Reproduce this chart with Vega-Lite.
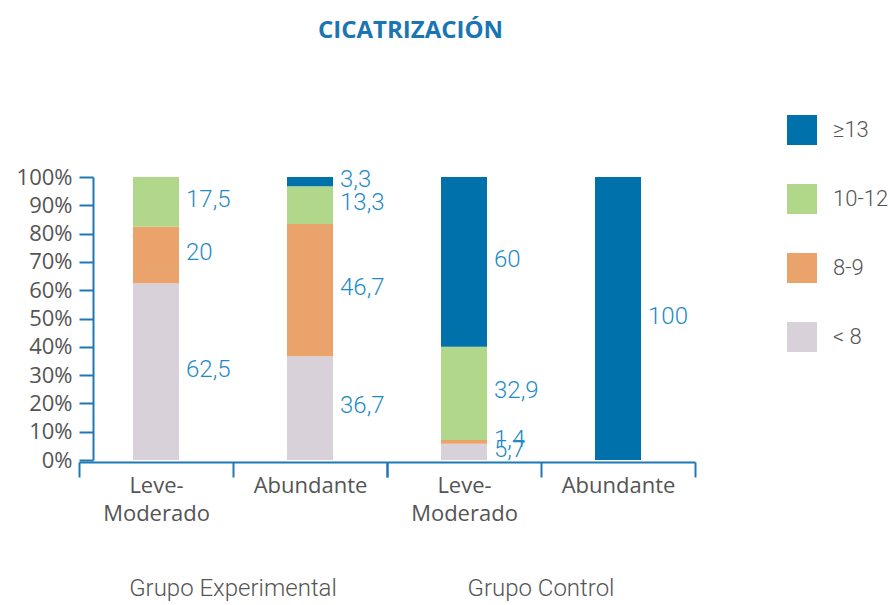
{
  "$schema": "https://vega.github.io/schema/vega-lite/v6.json",
  "padding": {"left": 16, "top": 19, "right": 4, "bottom": 4},
  "title": {
    "text": "CICATRIZACIÓN",
    "font": "Open Sans",
    "fontSize": 24,
    "fontWeight": "bold",
    "color": "#1a76b2",
    "anchor": "middle",
    "offset": 72,
    "dx": -42
  },
  "data": {
    "values": [
      {"grupo": "Grupo Experimental", "sev": "Leve-Moderado", "cat": "< 8", "k": 1, "v": 62.5},
      {"grupo": "Grupo Experimental", "sev": "Leve-Moderado", "cat": "8-9", "k": 2, "v": 20},
      {"grupo": "Grupo Experimental", "sev": "Leve-Moderado", "cat": "10-12", "k": 3, "v": 17.5},
      {"grupo": "Grupo Experimental", "sev": "Abundante", "cat": "< 8", "k": 1, "v": 36.7},
      {"grupo": "Grupo Experimental", "sev": "Abundante", "cat": "8-9", "k": 2, "v": 46.7},
      {"grupo": "Grupo Experimental", "sev": "Abundante", "cat": "10-12", "k": 3, "v": 13.3},
      {"grupo": "Grupo Experimental", "sev": "Abundante", "cat": "≥13", "k": 4, "v": 3.3},
      {"grupo": "Grupo Control", "sev": "Leve-Moderado", "cat": "< 8", "k": 1, "v": 5.7},
      {"grupo": "Grupo Control", "sev": "Leve-Moderado", "cat": "8-9", "k": 2, "v": 1.4},
      {"grupo": "Grupo Control", "sev": "Leve-Moderado", "cat": "10-12", "k": 3, "v": 32.9},
      {"grupo": "Grupo Control", "sev": "Leve-Moderado", "cat": "≥13", "k": 4, "v": 60},
      {"grupo": "Grupo Control", "sev": "Abundante", "cat": "≥13", "k": 4, "v": 100}
    ]
  },
  "transform": [
    {"stack": "v", "groupby": ["grupo", "sev"], "sort": [{"field": "k", "order": "ascending"}], "as": ["y0", "y1"]},
    {"calculate": "(datum.y0 + datum.y1) / 2", "as": "mid"},
    {"calculate": "replace(format(datum.v, '.1~f'), '.', ',')", "as": "etiqueta"}
  ],
  "facet": {
    "column": {
      "field": "grupo",
      "type": "nominal",
      "sort": ["Grupo Experimental", "Grupo Control"],
      "title": null,
      "header": {
        "labelOrient": "bottom",
        "labelFont": "Roboto",
        "labelFontWeight": 300,
        "labelFontSize": 24,
        "labelColor": "#555555",
        "labelPadding": 53
      }
    }
  },
  "spacing": 0,
  "spec": {
    "width": 308,
    "height": 283,
    "layer": [
      {
        "mark": {"type": "bar", "width": 46},
        "encoding": {
          "x": {
            "field": "sev",
            "type": "nominal",
            "sort": ["Leve-Moderado", "Abundante"],
            "scale": {"paddingInner": 0, "paddingOuter": 0},
            "axis": {
              "title": null,
              "labelAngle": 0,
              "tickBand": "extent",
              "tickSize": 15,
              "tickWidth": 2,
              "domainWidth": 2,
              "domainColor": "#1d78b4",
              "tickColor": "#1d78b4",
              "labelFont": "Open Sans",
              "labelFontSize": 22,
              "labelColor": "#555555",
              "labelPadding": -2,
              "labelBaseline": "top",
              "labelLineHeight": 28,
              "labelExpr": "datum.label == 'Leve-Moderado' ? ['Leve-', 'Moderado'] : datum.label"
            }
          },
          "y": {
            "field": "y0",
            "type": "quantitative",
            "scale": {"domain": [0, 100], "nice": false},
            "axis": {
              "title": null,
              "values": [0, 10, 20, 30, 40, 50, 60, 70, 80, 90, 100],
              "labelExpr": "datum.value + '%'",
              "labelOverlap": false,
              "offset": -14,
              "grid": false,
              "tickSize": 14,
              "tickWidth": 2,
              "domainWidth": 2,
              "domainColor": "#1d78b4",
              "tickColor": "#1d78b4",
              "labelFont": "Open Sans",
              "labelFontSize": 22,
              "labelColor": "#555555",
              "labelPadding": 7
            }
          },
          "y2": {"field": "y1"},
          "color": {
            "field": "cat",
            "type": "nominal",
            "scale": {
              "domain": ["≥13", "10-12", "8-9", "< 8"],
              "range": ["#0071ab", "#b1d78b", "#eaa36a", "#d9d1da"]
            },
            "legend": {
              "orient": "none",
              "legendX": 708,
              "legendY": -62,
              "title": null,
              "symbolType": "square",
              "symbolSize": 900,
              "symbolStrokeWidth": 0,
              "symbolOpacity": 1,
              "rowPadding": 39,
              "labelFont": "Roboto",
              "labelFontWeight": 300,
              "labelFontSize": 22,
              "labelColor": "#555555",
              "labelOffset": 16
            }
          }
        }
      },
      {
        "mark": {
          "type": "text",
          "align": "left",
          "baseline": "middle",
          "dx": 30,
          "dy": -2,
          "font": "Roboto",
          "fontWeight": 300,
          "fontSize": 24,
          "color": "#1f8bc6"
        },
        "encoding": {
          "x": {
            "field": "sev",
            "type": "nominal",
            "sort": ["Leve-Moderado", "Abundante"],
            "axis": {
              "title": null,
              "labelAngle": 0,
              "tickBand": "extent",
              "tickSize": 15,
              "tickWidth": 2,
              "domainWidth": 2,
              "domainColor": "#1d78b4",
              "tickColor": "#1d78b4",
              "labelFont": "Open Sans",
              "labelFontSize": 22,
              "labelColor": "#555555",
              "labelPadding": -2,
              "labelBaseline": "top",
              "labelLineHeight": 28,
              "labelExpr": "datum.label == 'Leve-Moderado' ? ['Leve-', 'Moderado'] : datum.label"
            }
          },
          "y": {
            "field": "mid",
            "type": "quantitative",
            "axis": {
              "title": null,
              "values": [0, 10, 20, 30, 40, 50, 60, 70, 80, 90, 100],
              "labelExpr": "datum.value + '%'",
              "labelOverlap": false,
              "offset": -14,
              "grid": false,
              "tickSize": 14,
              "tickWidth": 2,
              "domainWidth": 2,
              "domainColor": "#1d78b4",
              "tickColor": "#1d78b4",
              "labelFont": "Open Sans",
              "labelFontSize": 22,
              "labelColor": "#555555",
              "labelPadding": 7
            }
          },
          "text": {"field": "etiqueta"}
        }
      }
    ]
  },
  "config": {"view": {"stroke": null}}
}
